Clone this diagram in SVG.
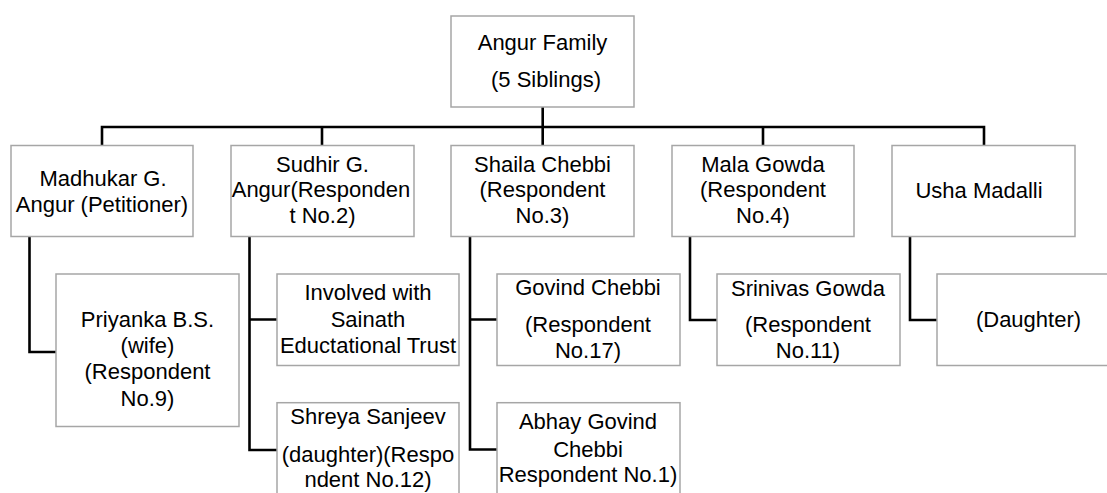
<svg xmlns="http://www.w3.org/2000/svg" width="1107" height="493" viewBox="0 0 1107 493">
<style>
.box{fill:#fff;stroke:#a6a6a6;stroke-width:1.5}
.t{font-family:"Liberation Sans",Arial,sans-serif;font-size:22px;fill:#000;text-anchor:middle}
.c{fill:none;stroke:#000;stroke-width:2.6}
</style>
<rect width="1107" height="493" fill="#fff"/>
<g id="connectors">
<path class="c" d="M542.7,107V127M102,145V127H984V145M322,127V145M542.7,127V145M763,127V145"/>
<path class="c" d="M29.5,237V352H56"/>
<path class="c" d="M249.5,237V450H277M249.5,319.5H277"/>
<path class="c" d="M470,237V449.5H497M470,319.5H497"/>
<path class="c" d="M690,237V320H717"/>
<path class="c" d="M910,237V320H937"/>
</g>
<g id="angur-family"><rect class="box" x="451" y="16" width="183" height="91"/><text class="t" x="542.5" y="50">Angur Family</text><text class="t" x="546" y="87">(5 Siblings)</text></g>
<g id="madhukar"><rect class="box" x="11" y="145.5" width="182" height="91"/><text class="t" x="103" y="185.7">Madhukar G.</text><text class="t" x="102" y="211.7">Angur (Petitioner)</text></g>
<g id="sudhir"><rect class="box" x="231" y="145.5" width="183" height="91"/><text class="t" x="322.5" y="171.7">Sudhir G.</text><text class="t" x="321" y="197">Angur(Responden</text><text class="t" x="322.5" y="223">t No.2)</text></g>
<g id="shaila"><rect class="box" x="451" y="145.5" width="183" height="91"/><text class="t" x="542.5" y="171.5">Shaila Chebbi</text><text class="t" x="542.5" y="197.3">(Respondent</text><text class="t" x="542.5" y="223.3">No.3)</text></g>
<g id="mala"><rect class="box" x="672" y="145.5" width="182" height="91"/><text class="t" x="763" y="171.7">Mala Gowda</text><text class="t" x="763" y="197">(Respondent</text><text class="t" x="763" y="223">No.4)</text></g>
<g id="usha"><rect class="box" x="892" y="145.5" width="183" height="91"/><text class="t" x="979" y="198.3">Usha Madalli</text></g>
<g id="priyanka"><rect class="box" x="56" y="274" width="183" height="152.5"/><text class="t" x="147.5" y="326.7">Priyanka B.S.</text><text class="t" x="147.5" y="353">(wife)</text><text class="t" x="147.5" y="379.3">(Respondent</text><text class="t" x="147.5" y="405.7">No.9)</text></g>
<g id="sainath"><rect class="box" x="277" y="274" width="182" height="91.5"/><text class="t" x="368" y="300">Involved with</text><text class="t" x="368" y="326.7">Sainath</text><text class="t" x="368" y="353.3">Eductational Trust</text></g>
<g id="shreya"><rect class="box" x="277" y="402.7" width="182" height="100"/><text class="t" x="368" y="424.3">Shreya Sanjeev</text><text class="t" x="368" y="462.3">(daughter)(Respo</text><text class="t" x="368" y="487.3">ndent No.12)</text></g>
<g id="govind"><rect class="box" x="497" y="274" width="183" height="91.5"/><text class="t" x="588" y="295">Govind Chebbi</text><text class="t" x="588" y="331.7">(Respondent</text><text class="t" x="588" y="357.7">No.17)</text></g>
<g id="abhay"><rect class="box" x="497" y="402.7" width="183" height="100"/><text class="t" x="588" y="429.3">Abhay Govind</text><text class="t" x="588" y="456.7">Chebbi</text><text class="t" x="588" y="482.3">Respondent No.1)</text></g>
<g id="srinivas"><rect class="box" x="717" y="274" width="183" height="91.5"/><text class="t" x="808" y="295.7">Srinivas Gowda</text><text class="t" x="808" y="331.7">(Respondent</text><text class="t" x="808" y="358.3">No.11)</text></g>
<g id="daughter"><rect class="box" x="937" y="274" width="183" height="91.5"/><text class="t" x="1028.5" y="327.3">(Daughter)</text></g>
</svg>
